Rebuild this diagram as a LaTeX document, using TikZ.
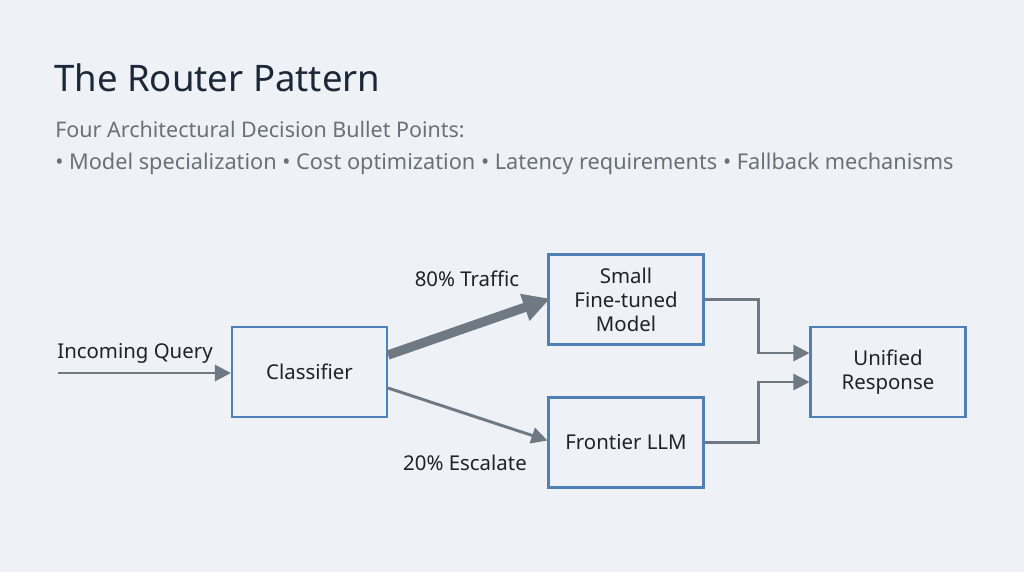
\documentclass[tikz,border=0pt]{standalone}
\usepackage{fontspec}
\setmainfont{Noto Sans}
\usetikzlibrary{arrows.meta,calc}
\definecolor{bg}{HTML}{EEF2F6}
\definecolor{titlec}{HTML}{1C2737}
\definecolor{subc}{HTML}{6A7077}
\definecolor{boxc}{HTML}{4F81B7}
\definecolor{arrc}{HTML}{6F7984}
\definecolor{txtc}{HTML}{1E2328}
\tikzset{
  stepbox/.style={draw=boxc, line width=1.8pt, fill=bg, minimum width=116pt, minimum height=67.5pt, align=center, text=txtc, font=\fontsize{15.3}{18}\selectfont, inner sep=2pt},
  lbl/.style={text=txtc, font=\fontsize{15.3}{18}\selectfont, inner sep=0pt},
  conn/.style={draw=arrc, line width=2.2pt, -{Triangle[length=12pt,width=12pt]}},
  bigconn/.style={draw=arrc, line width=7pt, -{Triangle[length=20pt,width=20pt]}, shorten >=-2pt}
}
\begin{document}
\begin{tikzpicture}[x=0.75pt,y=-0.75pt]
\path[fill=bg] (0,0) rectangle (1024,572);
\useasboundingbox (0,0) rectangle (1024,572);
\node[anchor=base west, text=titlec, font=\fontsize{27.4}{32}\selectfont, inner sep=0pt] (title) at (54,91) {The Router Pattern};
\node[anchor=base west, text=subc, font=\fontsize{16.1}{19}\selectfont, inner sep=0pt] (sub) at (55,137) {Four Architectural Decision Bullet Points:};
\node[anchor=base west, text=subc, font=\fontsize{16.3}{19}\selectfont, inner sep=0pt] (bul) at (55,169) {\textbullet\ Model specialization \textbullet\ Cost optimization \textbullet\ Latency requirements \textbullet\ Fallback mechanisms};

\node[stepbox] (clf) at (309.5,372) {Classifier};
\node[stepbox] (small) at (626,299.5) {Small\\Fine-tuned\\Model};
\node[stepbox] (front) at (626,442.5) {Frontier LLM};
\node[stepbox] (uni) at (888,372) {Unified\\Response};

\coordinate (start) at (58,373);
\node[lbl] (inq) at (135,353) {Incoming Query};
\node[lbl] (l80) at (467,279) {80\% Traffic};
\node[lbl] (l20) at (465,463) {20\% Escalate};

\draw[conn] (start) -- (start -| clf.west);
\draw[bigconn] ($(clf.east)+(0,-17)$) -- ($(small.west)+(0,0)$);
\draw[conn] ($(clf.east)+(0,16)$) -- ($(front.west)+(0,-2)$);
\draw[conn] (small.east) -- ++(54,0) |- ($(uni.west)+(0,-19)$);
\draw[conn] (front.east) -- ++(54,0) |- ($(uni.west)+(0,10)$);
\end{tikzpicture}
\end{document}
